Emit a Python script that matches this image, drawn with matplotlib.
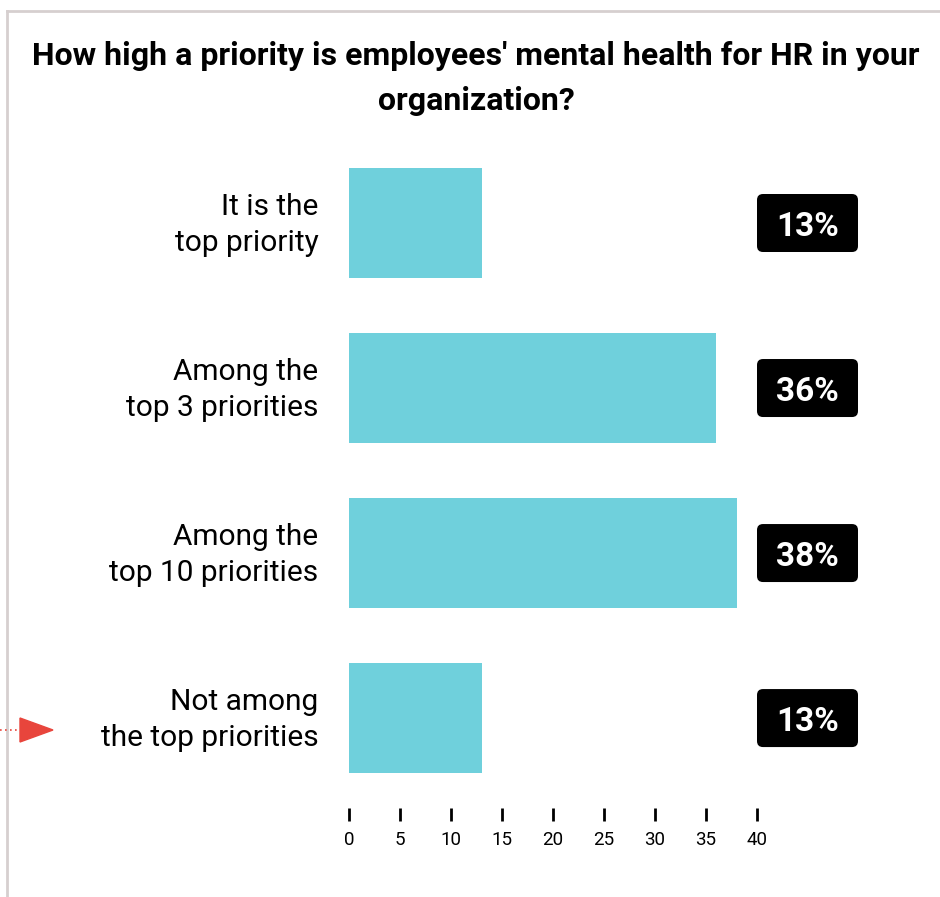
import matplotlib
matplotlib.use("Agg")
import matplotlib.pyplot as plt
import matplotlib.transforms as mtransforms
from matplotlib.lines import Line2D
from matplotlib.patches import Polygon, FancyBboxPatch

plt.rcParams['font.family'] = ['Roboto', 'DejaVu Sans']

categories = ["It is the\ntop priority", "Among the\ntop 3 priorities",
              "Among the\ntop 10 priorities", "Not among\nthe top priorities"]
values = [13, 36, 38, 13]
value_labels = ["13%", "36%", "38%", "13%"]
xticks = [0, 5, 10, 15, 20, 25, 30, 35, 40]
title = "How high a priority is employees' mental health for HR in your\norganization?"

W, H = 940, 897
fig = plt.figure(figsize=(W / 100, H / 100), dpi=100)

def fx(px):
    return px / W

def fy(py):
    return 1 - py / H

# axes placement (pixel coords)
ax_left, ax_right, ax_top, ax_bottom = 349, 757, 140, 808
ax = fig.add_axes([fx(ax_left), fy(ax_bottom), fx(ax_right - ax_left), (ax_bottom - ax_top) / H])

ypos = list(range(len(categories)))
ax.barh(ypos, values, height=0.667, color='#6FD0DC')
ax.set_xlim(0, 40)
ax.set_ylim(3.545, -0.503)

for s in ax.spines.values():
    s.set_visible(False)
ax.set_yticks(ypos)
ax.set_yticklabels(categories, fontsize=21.5, ha='right', linespacing=1.36)
ax.tick_params(axis='y', length=0, pad=22)
shift = mtransforms.ScaledTranslation(0, 5 / 100, fig.dpi_scale_trans)
for lbl in ax.get_yticklabels():
    lbl.set_transform(lbl.get_transform() + shift)
ax.set_xticks(xticks)
ax.set_xticklabels([str(t) for t in xticks], fontsize=13.5)
ax.tick_params(axis='x', direction='out', length=9.5, width=2, color='black', pad=7)

# value label boxes (pixel sized, positioned from data y)
box_l, box_r, box_h = 757, 858, 58
for y, lab in zip(ypos, value_labels):
    _, py_disp = ax.transData.transform((0, y))
    fig.add_artist(FancyBboxPatch((box_l, py_disp - box_h / 2), box_r - box_l, box_h,
                                  boxstyle='round,pad=0,rounding_size=6', fc='black', ec='none',
                                  transform=None))
    fig.text((box_l + box_r) / 2 / W, py_disp / H, lab, ha='center', va='center_baseline',
             color='white', fontsize=24, fontweight='bold')

fig.text(fx(476), fy(78.5), title, ha='center', va='center', fontsize=23, fontweight='bold',
         linespacing=1.62)

# border lines
border_col = '#D6CFCF'
fig.add_artist(Line2D([fx(7.5), fx(7.5)], [fy(11), fy(H)], color=border_col, lw=2))
fig.add_artist(Line2D([fx(7), fx(W)], [fy(11.5), fy(11.5)], color=border_col, lw=2))

# red arrow
fig.add_artist(Line2D([fx(0), fx(20)], [fy(730), fy(730)], color='#E8453C', lw=1.2, ls=(0, (1, 2))))
fig.add_artist(Polygon([(fx(20), fy(718)), (fx(20), fy(742)), (fx(53), fy(730))],
                       closed=True, color='#E8453C', transform=fig.transFigure))

fig.savefig('out.png', dpi=100)
